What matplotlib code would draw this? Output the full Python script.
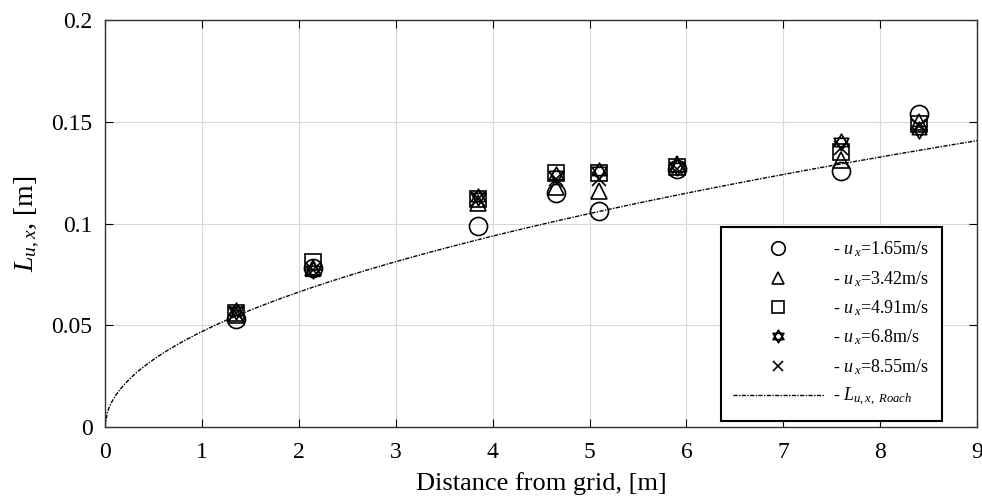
import numpy as np
import matplotlib
matplotlib.use("Agg")
import matplotlib.pyplot as plt
from matplotlib.path import Path

plt.rcParams.update({
    "font.family": "Liberation Serif",
    "mathtext.fontset": "custom",
    "mathtext.rm": "Liberation Serif",
    "mathtext.it": "Liberation Serif:italic",
    "font.size": 17,
    "xtick.direction": "in",
    "ytick.direction": "in",
    "xtick.top": True,
    "ytick.right": True,
})

# measurement stations, distance from grid [m]
distance = [1.35, 2.15, 3.85, 4.65, 5.1, 5.9, 7.6, 8.4]

# integral length scale L_u,x [m] for each free-stream velocity
L_165 = [0.053, 0.078, 0.099, 0.115, 0.106, 0.127, 0.126, 0.154]
L_342 = [0.055, 0.078, 0.110, 0.118, 0.116, 0.129, 0.131, 0.150]
L_491 = [0.056, 0.081, 0.112, 0.125, 0.125, 0.128, 0.135, 0.149]
L_680 = [0.057, 0.077, 0.113, 0.124, 0.126, 0.128, 0.140, 0.146]
L_855 = [0.056, 0.077, 0.112, 0.122, 0.122, 0.127, 0.137, 0.148]

labels = ["- $u_{\\,x}$=1.65m/s", "- $u_{\\,x}$=3.42m/s", "- $u_{\\,x}$=4.91m/s",
          "- $u_{\\,x}$=6.8m/s", "- $u_{\\,x}$=8.55m/s"]

# Roach correlation: L = 0.2 * M * (x / M)^0.5, mesh size M
M_MESH = 0.055
x_roach = np.linspace(0, 9, 400)
L_roach = 0.2 * M_MESH * np.sqrt(x_roach / M_MESH)

# six-pointed star marker (two overlapping triangles)
ang1 = np.deg2rad([90, 210, 330, 90])
ang2 = np.deg2rad([270, 30, 150, 270])
verts = list(zip(np.cos(ang1), np.sin(ang1))) + list(zip(np.cos(ang2), np.sin(ang2)))
codes = [Path.MOVETO, Path.LINETO, Path.LINETO, Path.CLOSEPOLY] * 2
hexagram = Path(verts, codes)

fig = plt.figure(figsize=(9.82, 5.0), dpi=100)
ax = fig.add_axes([0.107, 0.146, 0.888, 0.814])

series = [L_165, L_342, L_491, L_680, L_855]
markers = ["o", "^", "s", hexagram, "x"]
sizes = [13, 12, 11, 12, 10]
for vals, mk, ms, lab in zip(series, markers, sizes, labels):
    ax.plot(distance, vals, ls="none", marker=mk, ms=ms, mfc="none",
            mec="black", mew=1.2, label=lab)

ax.plot(x_roach, L_roach, color="black", ls=(0, (3, 1, 1, 1)), lw=1.0,
        label="- $L_{u,x,\\ Roach}$")

ax.set_xlim(0, 9)
ax.set_ylim(0, 0.2)
ax.set_xticks(range(0, 10))
ax.set_yticks([0, 0.05, 0.1, 0.15, 0.2])
ax.set_yticklabels(["0", "0.05", "0.1", "0.15", "0.2"])
ax.grid(color="#d8d8d8", lw=0.8)
ax.tick_params(length=6, width=0.8)
ax.tick_params(axis="x", pad=11)
ax.tick_params(axis="y", pad=9)
for s in ax.spines.values():
    s.set_linewidth(1.0)
    s.set_color("#333333")

ax.set_xlabel("Distance from grid, [m]", fontsize=19, labelpad=6)
ax.set_ylabel("$L_{u,x}$, [m]", fontsize=20, labelpad=7)

leg = ax.legend(loc="lower right", bbox_to_anchor=(0.960, 0.015),
                fontsize=13, handlelength=5.0, handletextpad=0.55,
                labelspacing=0.53, borderaxespad=0.0,
                fancybox=False, edgecolor="black", framealpha=1,
                markerscale=0.75, borderpad=0.7)
leg.get_frame().set_linewidth(1.5)

fig.savefig("out.png", dpi=100)
